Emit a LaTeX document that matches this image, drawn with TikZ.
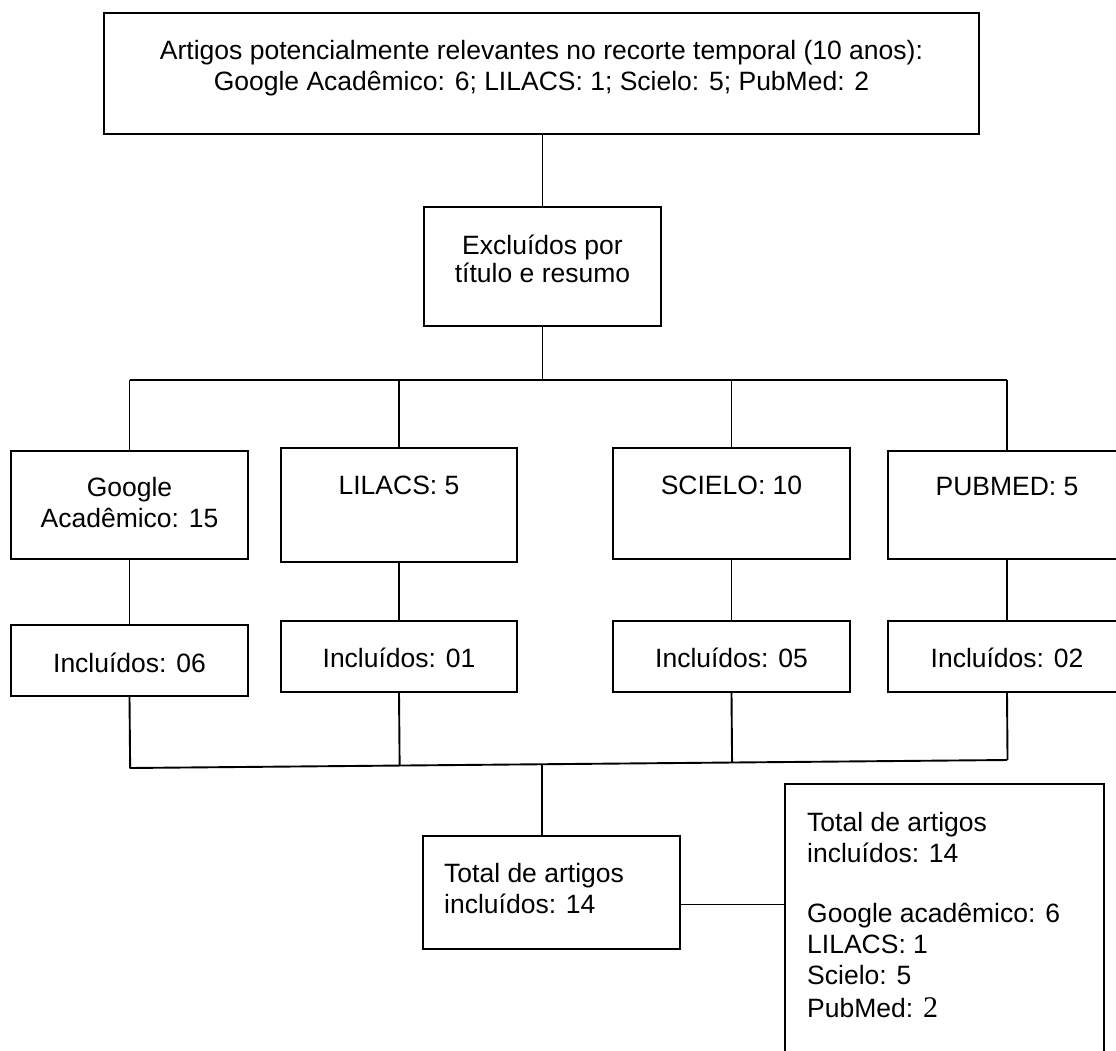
\documentclass[tikz,border=0pt]{standalone}
\usepackage{fontspec}
\setmainfont{Liberation Sans}
\newfontfamily\serifdigit{Liberation Serif}
\usetikzlibrary{calc}

\begin{document}
\begin{tikzpicture}[x=1pt, y=-1pt,
  box/.style={draw, line width=1.9pt, inner sep=0pt},
  txt/.style={align=center, inner sep=0pt, anchor=north},
  link/.style={line width=1.9pt},
  font=\fontsize{26.5}{31}\selectfont]
  \useasboundingbox (0,0) rectangle (1116,1050);

  % search and screening
  \node[box, minimum width=875pt, minimum height=121pt] (start) at (541.5,73.5) {};
  \node[txt] (startT) at (541.5,40) {Artigos potencialmente relevantes no recorte temporal (10 anos):\\
    Google Acadêmico: 6; LILACS: 1; Scielo: 5; PubMed: 2};
  \node[box, minimum width=237pt, minimum height=119pt] (excl) at (542.5,266.5) {};
  \node[txt] (exclT) at (542.5,235) {Excluídos por\\[-3pt] título e resumo};

  % databases
  \node[box, minimum width=237pt, minimum height=108pt] (gsrc) at (129.5,505) {};
  \node[box, minimum width=236pt, minimum height=114pt] (lsrc) at (399,505) {};
  \node[box, minimum width=237pt, minimum height=111pt] (ssrc) at (731.5,503.5) {};
  \node[box, minimum width=238pt, minimum height=108pt] (psrc) at (1007,505) {};
  \node[txt] (gsrcT) at (129.5,477) {Google\\ Acadêmico: 15};
  \node[txt] (lsrcT) at (399,475.5) {LILACS: 5};
  \node[txt] (ssrcT) at (731.5,475.5) {SCIELO: 10};
  \node[txt] (psrcT) at (1007,477) {PUBMED: 5};

  % included per database
  \node[box, minimum width=237pt, minimum height=71pt] (ginc) at (129.5,660.5) {};
  \node[box, minimum width=236pt, minimum height=71pt] (linc) at (399,656.5) {};
  \node[box, minimum width=237pt, minimum height=71pt] (sinc) at (731.5,656.5) {};
  \node[box, minimum width=238pt, minimum height=71pt] (pinc) at (1007,656.5) {};
  \node[txt] (gincT) at (129.5,652.5) {Incluídos: 06};
  \node[txt] (lincT) at (399,648) {Incluídos: 01};
  \node[txt] (sincT) at (731.5,648) {Incluídos: 05};
  \node[txt] (pincT) at (1007,648) {Incluídos: 02};

  % totals
  \node[box, minimum width=257pt, minimum height=113pt] (total) at (551.5,892.5) {};
  \node[txt, anchor=north west, align=left] (totalT) at (444,863) {Total de artigos\\ incluídos: 14};
  \node[box, minimum width=319pt, minimum height=286pt] (summary) at (944.5,927) {};
  \node[txt, anchor=north west, align=left] (summaryT) at (807,812) {Total de artigos\\
    incluídos: 14\\[29pt]
    Google acadêmico: 6\\
    LILACS: 1\\
    Scielo: 5\\[2pt]
    PubMed: {\serifdigit\fontsize{30}{31}\selectfont 2}};

  % connectors
  \coordinate (barL) at (129.5,380);
  \coordinate (barR) at (1007,380);
  \coordinate (joinL) at (129.5,768);
  \coordinate (joinR) at (1007,760);
  \coordinate (joinM) at ($(joinL)!0.47!(joinR)$);
  \draw[link] (excl.north |- start.south) -- (excl.north);
  \draw[link] (excl.south) -- (excl.south |- barL);
  \draw[link] (barL) -- (barR);
  \foreach \src/\inc in {gsrc/ginc, lsrc/linc, ssrc/sinc, psrc/pinc} {
    \draw[link] (\src.north |- barL) -- (\src.north);
    \draw[link] (\src.south) -- (\inc.north);
    \draw[link] (\inc.south) -- ($(joinL)!(\inc.south)!(joinR)$);
  }
  \draw[link] (joinL) -- (joinR);
  \draw[link] (joinM) -- (joinM |- total.north);
  \draw[link] ([yshift=-12pt]total.east) -- ([yshift=-12pt]total.east -| summary.west);
\end{tikzpicture}
\end{document}
